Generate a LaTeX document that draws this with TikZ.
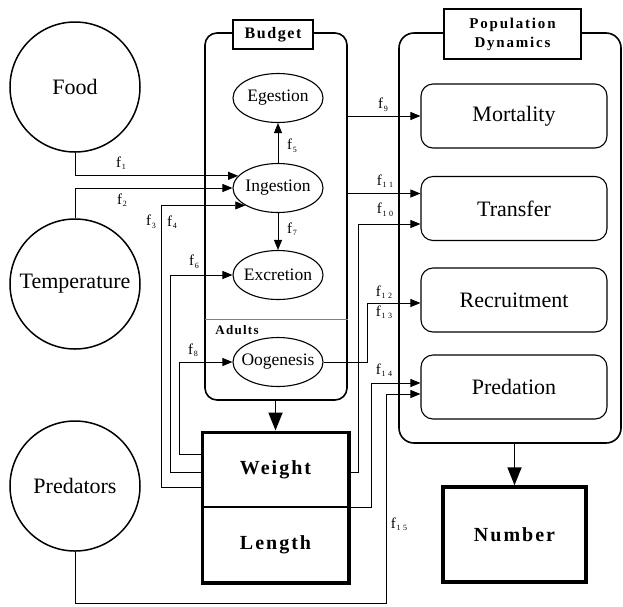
\documentclass[tikz,border=0pt]{standalone}
\usepackage{fontspec}
\setmainfont{Liberation Serif}
\newfontfamily\spaced{Liberation Serif}[LetterSpace=10]
\newfontfamily\spacedw{Liberation Serif}[LetterSpace=12]
\usetikzlibrary{arrows.meta,shapes.geometric,fit}
\newcommand\fl[1]{f\kern0.8pt\raisebox{-2.5pt}{\fontsize{8}{8}\selectfont #1}}
\begin{document}
\begin{tikzpicture}[x=1pt,y=-1pt,
  every node/.style={inner sep=0pt},
  src/.style={circle,draw,line width=1.5pt,minimum size=130pt,font=\fontsize{22}{24}\selectfont},
  proc/.style={ellipse,draw,line width=1.1pt,minimum width=90pt,minimum height=49pt,inner xsep=-5pt,font=\fontsize{17.5}{19}\selectfont},
  popbox/.style={rectangle,rounded corners=12pt,draw,line width=1.1pt,minimum width=186pt,minimum height=64pt,font=\fontsize{22}{24}\selectfont},
  panel/.style={rectangle,rounded corners=12pt,draw,line width=1.6pt},
  title/.style={rectangle,draw,fill=white,line width=1.4pt,font=\spaced\bfseries\fontsize{16}{17}\selectfont,align=center},
  wbox/.style={rectangle,draw,line width=1.5pt,font=\spaced\bfseries\fontsize{20}{22}\selectfont},
  conn/.style={line width=0.9pt,-{Triangle[length=10pt,width=8pt]}},
  flab/.style={font=\fontsize{15}{16}\selectfont},
  bigarr/.style={line width=1.8pt,-{Triangle[length=18pt,width=14pt]}}
]
\useasboundingbox (0,0) rectangle (623,606);

% group panels
\node[panel, minimum width=142pt, minimum height=367pt] (budget) at (276,216.5) {};
\node[panel, rounded corners=15pt, minimum width=222pt, minimum height=410pt] (pop) at (510,238) {};
\node[title, minimum width=80pt, minimum height=29pt] (budgetlabel) at (273,34.5) {Budget};
\node[title, font=\spacedw\bfseries\fontsize{15}{19}\selectfont, minimum width=137pt, minimum height=50pt] (poplabel) at (512.5,34) {Population\\Dynamics};

% adults divider
\coordinate (adl) at (205,319);
\draw[gray, line width=0.8pt] (adl) -- (adl -| budget.east);
\node[font=\spaced\bfseries\fontsize{13}{14}\selectfont] (adults) at (237,330) {Adults};

% processes
\node[proc] (egestion) at (278,98) {Egestion};
\node[proc] (ingestion) at (278,188) {Ingestion};
\node[proc] (excretion) at (278,275) {Excretion};
\node[proc] (oogenesis) at (278,362) {Oogenesis};

% sources
\node[src] (food) at (75,87) {Food};
\node[src] (temp) at (75,284) {Temperature};
\node[src] (pred) at (75,486) {Predators};

% population boxes
\node[popbox] (mortality) at (514,116) {Mortality};
\node[popbox] (transfer) at (514,208.5) {Transfer};
\node[popbox] (recruit) at (514,300) {Recruitment};
\node[popbox] (predation) at (514,387) {Predation};

% state boxes
\node[wbox, minimum width=145pt, minimum height=74pt] (weight) at (275.5,470) {Weight};
\node[wbox, minimum width=145pt, minimum height=75pt] (length) at (275.5,544.5) {Length};
\node[fit=(weight)(length), draw, line width=3.5pt, inner sep=0pt] (wl) {};
\node[wbox, line width=3.5pt, minimum width=143pt, minimum height=95pt] (number) at (514.5,534.5) {Number};

% big arrows
\draw[bigarr] (wl.north |- budget.south) -- (wl.north);
\draw[bigarr] (number.north |- pop.south) -- (number.north);

% internal arrows
\draw[conn] (ingestion.north) -- (egestion.south);
\draw[conn] (ingestion.south) -- (excretion.north);

% left connectors
\draw[conn] (food.south) |- (ingestion.163);
\draw[conn] (temp.north) |- (ingestion.west);
\draw[conn] ([yshift=-17pt]weight.west) -- ++(-41,0) |- (ingestion.208);
\draw[conn] ([yshift=-2pt]weight.west) -- ++(-32,0) |- (excretion.west);
\draw[conn] ([yshift=16pt]weight.west) -- ++(-23,0) |- (oogenesis.west);

% right connectors
\coordinate (t11) at ([yshift=15pt]transfer.west);
\coordinate (t10) at ([yshift=-15.5pt]transfer.west);
\coordinate (r12) at ([yshift=-3pt]recruit.west);
\coordinate (p14) at ([yshift=4pt]predation.west);
\coordinate (p15) at ([yshift=-7pt]predation.west);
\draw[conn] (budget.east |- mortality.west) -- (mortality.west);
\draw[conn] (budget.east |- t11) -- (t11);
\draw[conn] ([yshift=-2pt]weight.east) -- ++(10,0) |- (t10);
\draw[conn] (oogenesis.east) -- ++(44,0) |- (r12);
\draw[conn] (weight.south east) -- ++(23,0) |- (p14);
\draw[conn] (pred.south) -- ++(0,52) -- ++(311,0) |- (p15);

% labels
\node[flab] (l1) at (121,163) {\fl{1}};
\node[flab] (l2) at (122,200) {\fl{2}};
\node[flab] (l3) at (151,222) {\fl{3}};
\node[flab] (l4) at (172,222) {\fl{4}};
\node[flab] (l5) at (292,146) {\fl{5}};
\node[flab] (l6) at (194,262) {\fl{6}};
\node[flab] (l7) at (292,229) {\fl{7}};
\node[flab] (l8) at (193,350) {\fl{8}};
\node[flab] (l9) at (383,105) {\fl{9}};
\node[flab] (l11) at (385,181) {\fl{1\kern2.5pt1}};
\node[flab] (l10) at (385,210) {\fl{1\kern2.5pt0}};
\node[flab] (l12) at (384,292) {\fl{1\kern2.5pt2}};
\node[flab] (l13) at (384,312) {\fl{1\kern2.5pt3}};
\node[flab] (l14) at (384,370) {\fl{1\kern2.5pt4}};
\node[flab] (l15) at (399,524) {\fl{1\kern2.5pt5}};
\end{tikzpicture}
\end{document}
